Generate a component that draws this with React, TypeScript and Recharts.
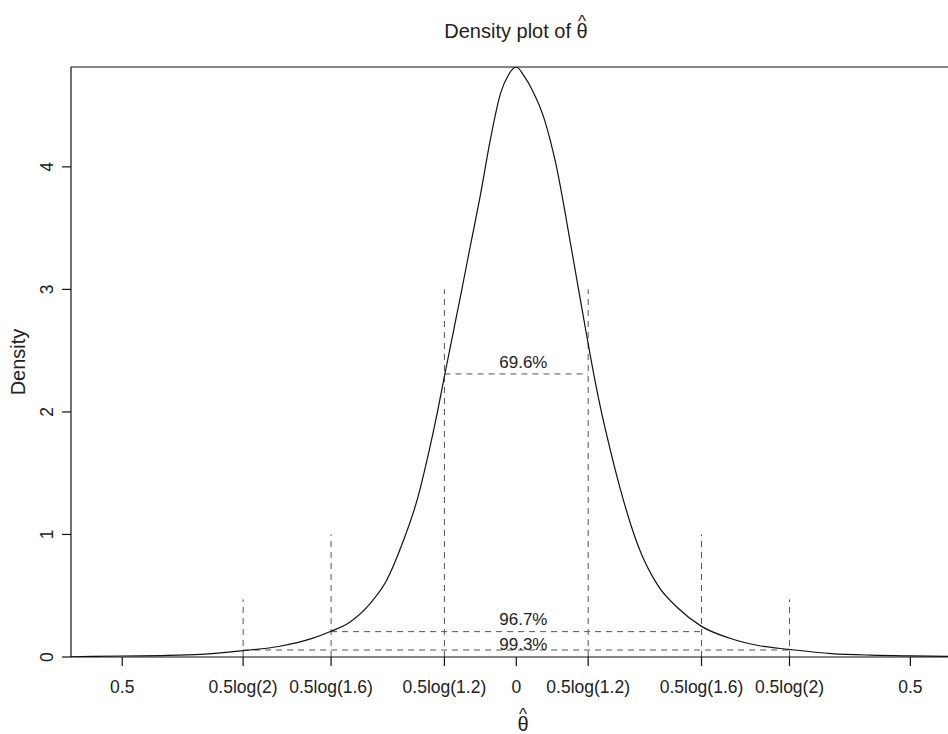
import type { JSX } from 'react'
import { ComposedChart, Line, XAxis, YAxis, ReferenceLine, ReferenceDot } from 'recharts'

// density curve
const curveX = [
  -0.565, -0.5, -0.45, -0.4, -0.35, -0.3, -0.26, -0.235, -0.21, -0.185, -0.165, -0.145,
  -0.125, -0.11, -0.1, -0.09, -0.08, -0.07, -0.06, -0.045, -0.033, -0.02, -0.01, 0,
  0.01, 0.02, 0.035, 0.05, 0.07, 0.085, 0.095, 0.105, 0.12, 0.135, 0.155, 0.18,
  0.205, 0.235, 0.27, 0.31, 0.345, 0.4, 0.45, 0.5, 0.582,
]
const curveY = [
  0.002, 0.008, 0.012, 0.022, 0.05, 0.088, 0.15, 0.21, 0.29, 0.44, 0.62, 0.92,
  1.3, 1.7, 2.0, 2.33, 2.65, 2.97, 3.3, 3.79, 4.22, 4.6, 4.75, 4.815,
  4.74, 4.63, 4.4, 4.03, 3.33, 2.78, 2.42, 2.09, 1.67, 1.3, 0.9, 0.58,
  0.4, 0.25, 0.155, 0.09, 0.063, 0.028, 0.015, 0.009, 0.004,
]

const xTicks = [-0.5, -0.3466, -0.235, -0.0912, 0, 0.0912, 0.235, 0.3466, 0.5]
const xTickLabels = ['0.5', '0.5log(2)', '0.5log(1.6)', '0.5log(1.2)', '0', '0.5log(1.2)', '0.5log(1.6)', '0.5log(2)', '0.5']
const yTicks = [0, 1, 2, 3, 4]

// credible intervals: half width, height of the vertical marks, level of the horizontal mark
const intervalHalf = [0.0912, 0.235, 0.3466]
const intervalTop = [3, 1, 0.47]
const intervalLevel = [2.31, 0.207, 0.057]
const coverage = ['69.6%', '96.7%', '99.3%']
const coverageLabelY = [2.41, 0.31, 0.106]
const coverageLabelX = 0.009

const xMin = -0.565
const xMax = 0.582
const yMax = 4.815

const data = curveX.map((x, i) => ({ x, density: curveY[i] }))

const FONT = '"Liberation Sans", Arial, Helvetica, sans-serif'
const INK = '#222'
const DASH = '#555'

const XTick = (props: any): JSX.Element => {
  const { x, y, payload } = props
  const idx = xTicks.findIndex((t) => Math.abs(t - payload.value) < 1e-6)
  return (
    <text x={x} y={y} dy={27} textAnchor="middle" fontSize={17.5} fontFamily={FONT} fill={INK}>
      {idx >= 0 ? xTickLabels[idx] : payload.value}
    </text>
  )
}

const YTick = (props: any): JSX.Element => {
  const { x, y, payload } = props
  const bx = x - 9
  return (
    <text x={bx} y={y} transform={`rotate(-90, ${bx}, ${y})`} textAnchor="middle" fontSize={17.5} fontFamily={FONT} fill={INK}>
      {payload.value}
    </text>
  )
}

export default function App(): JSX.Element {
  return (
    <div style={{ position: 'fixed', left: 0, top: 0, width: 948, height: 734, overflow: 'hidden', background: '#fff' }}>
      <ComposedChart width={980} height={734} data={data} margin={{ top: 67, right: 5, bottom: 0, left: 0 }}>
        <XAxis
          dataKey="x"
          type="number"
          domain={[xMin, xMax]}
          ticks={xTicks}
          interval={0}
          allowDataOverflow
          height={77}
          tickSize={9}
          tickMargin={0}
          tick={<XTick />}
          axisLine={{ stroke: '#111', strokeWidth: 1.2 }}
          tickLine={{ stroke: '#111', strokeWidth: 1.2 }}
        />
        <YAxis
          type="number"
          domain={[0, yMax]}
          ticks={yTicks}
          interval={0}
          allowDataOverflow
          width={71}
          tickSize={9}
          tickMargin={0}
          tick={<YTick />}
          axisLine={{ stroke: '#111', strokeWidth: 1.2 }}
          tickLine={{ stroke: '#111', strokeWidth: 1.2 }}
        />
        <ReferenceLine y={yMax} stroke="#111" strokeWidth={1.2} />
        {intervalHalf.map((h, i) => (
          <ReferenceLine key={`l${i}`} segment={[{ x: -h, y: 0 }, { x: -h, y: intervalTop[i] }]} stroke={DASH} strokeDasharray="6 5" />
        ))}
        {intervalHalf.map((h, i) => (
          <ReferenceLine key={`r${i}`} segment={[{ x: h, y: 0 }, { x: h, y: intervalTop[i] }]} stroke={DASH} strokeDasharray="6 5" />
        ))}
        {intervalHalf.map((h, i) => (
          <ReferenceLine key={`h${i}`} segment={[{ x: -h, y: intervalLevel[i] }, { x: h, y: intervalLevel[i] }]} stroke={DASH} strokeDasharray="6 5" />
        ))}
        {coverage.map((c, i) => (
          <ReferenceDot
            key={c}
            x={coverageLabelX}
            y={coverageLabelY[i]}
            r={0}
            fill="none"
            stroke="none"
            label={{ value: c, position: 'center', fontSize: 17, fontFamily: FONT, fill: INK }}
          />
        ))}
        <Line
          type="monotone"
          dataKey="density"
          stroke="#111"
          strokeWidth={1.2}
          dot={false}
          activeDot={false}
          isAnimationActive={false}
        />
      </ComposedChart>
      <svg width={948} height={734} style={{ position: 'absolute', left: 0, top: 0, pointerEvents: 'none' }}>
        <text x={516} y={38} textAnchor="middle" fontSize={20} fontFamily={FONT} fill={INK}>
          Density plot of θ<tspan dx={-9.6} dy={-11} fontSize={17}>^</tspan>
        </text>
        <text x={25} y={362} transform="rotate(-90, 25, 362)" textAnchor="middle" fontSize={20} fontFamily={FONT} fill={INK}>Density</text>
        <text x={523} y={731} textAnchor="middle" fontSize={20} fontFamily={FONT} fill={INK}>
          θ<tspan dx={-9.6} dy={-11} fontSize={17}>^</tspan>
        </text>
      </svg>
    </div>
  )
}
